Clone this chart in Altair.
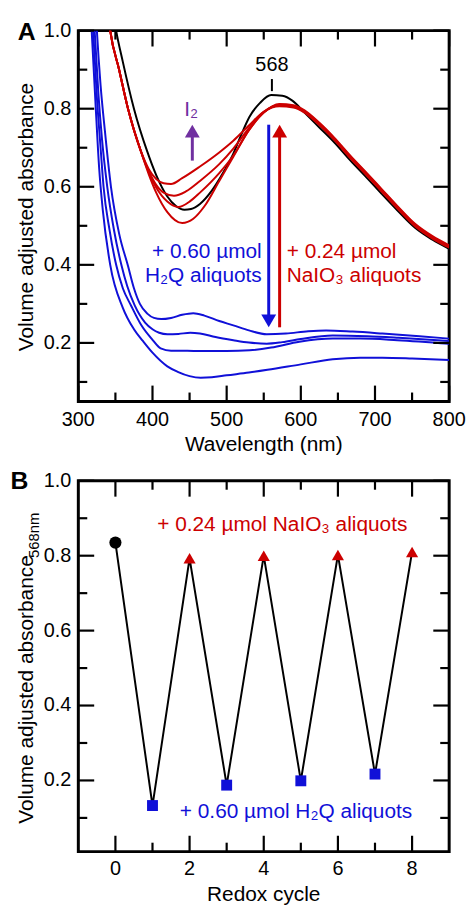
import altair as alt
import pandas as pd

FONT = "Liberation Sans, Arial, Helvetica, sans-serif"
BLUE = "#1010D8"
RED = "#CC0000"
PURPLE = "#7030A0"
W, H = 374, 374

# ---------------- Panel A: spectra ----------------
black_nm = [346, 351, 360, 375, 393, 405, 420, 432, 443, 452, 464, 480, 495, 509, 520, 531, 545, 560, 575, 589, 605, 625, 645, 667, 690, 709, 730, 754, 777, 800]
black_ab = [1.06, 1.0, 0.92, 0.80, 0.69, 0.63, 0.575, 0.55, 0.541, 0.543, 0.556, 0.59, 0.635, 0.685, 0.735, 0.78, 0.815, 0.835, 0.833, 0.82, 0.79, 0.752, 0.714, 0.667, 0.621, 0.582, 0.540, 0.495, 0.465, 0.441]

red1_nm = [338, 343, 355, 367, 384, 395, 405, 415, 425, 440, 464, 490, 509, 530, 550, 571, 590, 605, 625, 645, 667, 690, 709, 730, 754, 777, 800]
red1_ab = [1.08, 1.0, 0.90, 0.80, 0.693, 0.645, 0.62, 0.609, 0.607, 0.622, 0.652, 0.688, 0.718, 0.757, 0.792, 0.806, 0.803, 0.79, 0.758, 0.72, 0.673, 0.627, 0.588, 0.545, 0.499, 0.468, 0.444]
red2_nm = [338, 343, 355, 367, 384, 395, 405, 415, 429, 445, 464, 490, 509, 530, 550, 571, 590, 605, 625, 645, 667, 690, 709, 730, 754, 777, 800]
red2_ab = [1.08, 1.0, 0.90, 0.80, 0.693, 0.64, 0.605, 0.585, 0.577, 0.588, 0.615, 0.658, 0.698, 0.750, 0.792, 0.808, 0.805, 0.792, 0.76, 0.722, 0.675, 0.629, 0.59, 0.547, 0.501, 0.47, 0.446]
red3_nm = [338, 343, 355, 367, 384, 395, 405, 420, 435, 450, 464, 490, 509, 530, 550, 571, 590, 605, 625, 645, 667, 690, 709, 730, 754, 777, 800]
red3_ab = [1.08, 1.0, 0.90, 0.80, 0.693, 0.637, 0.598, 0.562, 0.548, 0.562, 0.585, 0.635, 0.68, 0.745, 0.79, 0.81, 0.807, 0.794, 0.762, 0.724, 0.677, 0.631, 0.592, 0.549, 0.503, 0.472, 0.448]
red4_nm = [338, 343, 355, 367, 384, 395, 405, 420, 440, 455, 470, 490, 509, 530, 550, 571, 590, 605, 625, 645, 667, 690, 709, 730, 754, 777, 800]
red4_ab = [1.08, 1.0, 0.90, 0.80, 0.693, 0.632, 0.585, 0.535, 0.507, 0.518, 0.55, 0.615, 0.677, 0.745, 0.79, 0.812, 0.809, 0.796, 0.764, 0.726, 0.679, 0.633, 0.594, 0.551, 0.505, 0.474, 0.450]

blue1_nm = [321, 325, 330, 336, 344, 355, 367, 375, 383, 393, 402, 412, 425, 440, 455, 470, 490, 509, 530, 554, 580, 610, 634, 670, 710, 760, 800]
blue1_ab = [1.15, 1.0, 0.86, 0.74, 0.60, 0.48, 0.397, 0.34, 0.30, 0.275, 0.264, 0.261, 0.264, 0.272, 0.276, 0.27, 0.256, 0.245, 0.232, 0.222, 0.224, 0.23, 0.232, 0.229, 0.224, 0.217, 0.211]
blue2_nm = [318, 322, 327, 332, 339, 348, 358, 366, 376, 390, 400, 409, 420, 435, 451, 464, 485, 509, 530, 554, 575, 600, 643, 690, 732, 800]
blue2_ab = [1.15, 1.0, 0.84, 0.72, 0.60, 0.49, 0.40, 0.345, 0.296, 0.252, 0.235, 0.226, 0.222, 0.223, 0.226, 0.224, 0.215, 0.207, 0.201, 0.198, 0.202, 0.21, 0.219, 0.217, 0.213, 0.205]
blue3_nm = [316, 320, 325, 330, 334, 342, 351, 360, 371, 385, 400, 411, 425, 447, 464, 500, 531, 560, 598, 643, 680, 730, 800]
blue3_ab = [1.15, 1.0, 0.83, 0.70, 0.60, 0.49, 0.40, 0.34, 0.296, 0.245, 0.208, 0.186, 0.18, 0.18, 0.179, 0.179, 0.181, 0.188, 0.203, 0.211, 0.211, 0.207, 0.198]
blue4_nm = [314, 318, 323, 328, 333, 343, 360, 375, 387, 400, 420, 434, 450, 465, 480, 500, 530, 555, 600, 643, 680, 710, 750, 800]
blue4_ab = [1.15, 1.0, 0.82, 0.65, 0.54, 0.40, 0.29, 0.235, 0.205, 0.175, 0.14, 0.126, 0.115, 0.111, 0.112, 0.117, 0.124, 0.131, 0.145, 0.158, 0.162, 0.162, 0.16, 0.156]

x_major_A = [300, 400, 500, 600, 700, 800]
x_labels_A = ["300", "400", "500", "600", "700", "800"]
x_minor_A = [350, 450, 550, 650, 750]
y_major = [0.2, 0.4, 0.6, 0.8, 1.0]
y_labels = ["0.2", "0.4", "0.6", "0.8", "1.0"]
y_minor = [0.1, 0.3, 0.5, 0.7, 0.9]
x_title_A = "Wavelength (nm)"
y_title = "Volume adjusted absorbance"

# annotations panel A (data coordinates)
peak_label = "568"
peak_x = 561
peak_text_y = 0.897
peak_tick = [0.845, 0.876]
i2_label = "I₂"
i2_x, i2_y = 452, 0.782
purple_arrow = dict(x=453.7, base=0.667, tip=0.759)
blue_arrow = dict(x=556.7, base=0.759, tip=0.24)
red_arrow = dict(x=571.4, base=0.24, tip=0.759)
blue_lines = ["+ 0.60 µmol", "H₂Q aliquots"]
red_lines = ["+ 0.24 µmol", "NaIO₃ aliquots"]
text_line_y = [0.4184, 0.3567]
blue_text_x = 547.3
red_text_x = 581

# ---------------- Panel B: redox cycles ----------------
cycle = [0, 1, 2, 3, 4, 5, 6, 7, 8]
a568 = [0.835, 0.133, 0.793, 0.1875, 0.800, 0.199, 0.802, 0.217, 0.810]
kind = ["start", "H2Q", "NaIO3", "H2Q", "NaIO3", "H2Q", "NaIO3", "H2Q", "NaIO3"]
x_major_B = [0, 2, 4, 6, 8]
x_labels_B = ["0", "2", "4", "6", "8"]
x_minor_B = [1, 3, 5, 7]
x_title_B = "Redox cycle"
y_sub_B = "568nm"
b_red_text = "+ 0.24 µmol NaIO₃ aliquots"
b_blue_text = "+ 0.60 µmol H₂Q aliquots"
b_red_pos = (4.5, 0.866)
b_blue_pos = (4.87, 0.100)

# ---------------- helpers ----------------
xsA = alt.Scale(domain=[300, 800], nice=False, zero=False)
ysA = alt.Scale(domain=[0.05, 1.0], nice=False, zero=False)
xsB = alt.Scale(domain=[-1, 9], nice=False, zero=False)
ysB = alt.Scale(domain=[0.01, 1.0], nice=False, zero=False)

MAJ, MIN = 16, 9


def text_mark(df, **kw):
    return alt.Chart(df).mark_text(font=FONT, **kw)


def axes_layers(xs, ys, xmaj, xlab, xmin, ymaj, ylab, ymin, xtitle, lab_off, title_off):
    layers = []
    for vals, L in ((xmaj, MAJ), (xmin, MIN)):
        d = pd.DataFrame({"v": vals})
        base = alt.Chart(d).mark_rule(color="black", strokeWidth=2.2)
        layers.append(base.encode(x=alt.X("v:Q", scale=xs, axis=None), y=alt.value(H), y2=alt.value(H - L)))
        layers.append(base.encode(x=alt.X("v:Q", scale=xs, axis=None), y=alt.value(0), y2=alt.value(L)))
    for vals, L in ((ymaj, MAJ), (ymin, MIN)):
        d = pd.DataFrame({"v": vals})
        base = alt.Chart(d).mark_rule(color="black", strokeWidth=2.2)
        layers.append(base.encode(y=alt.Y("v:Q", scale=ys, axis=None), x=alt.value(0), x2=alt.value(L)))
        layers.append(base.encode(y=alt.Y("v:Q", scale=ys, axis=None), x=alt.value(W), x2=alt.value(W - L)))
    # tick labels
    layers.append(text_mark(pd.DataFrame({"v": xmaj, "t": xlab}), fontSize=20, color="black", align="center",
                            baseline="middle").encode(x=alt.X("v:Q", scale=xs, axis=None), y=alt.value(H + lab_off), text="t:N"))
    layers.append(text_mark(pd.DataFrame({"v": ymaj, "t": ylab}), fontSize=20, color="black", align="right",
                            baseline="middle").encode(y=alt.Y("v:Q", scale=ys, axis=None), x=alt.value(-7), text="t:N"))
    layers.append(text_mark(pd.DataFrame({"t": [xtitle]}), fontSize=21, color="black", align="center",
                            baseline="middle").encode(x=alt.value(W / 2), y=alt.value(H + title_off), text="t:N"))
    return layers


# ---------------- Panel A build ----------------
def spec_df(name, nm, ab):
    return pd.DataFrame({"nm": nm, "A": ab, "s": name})

blue_df = pd.concat([spec_df("B1", blue1_nm, blue1_ab), spec_df("B2", blue2_nm, blue2_ab),
                     spec_df("B3", blue3_nm, blue3_ab), spec_df("B4", blue4_nm, blue4_ab)])
red_df = pd.concat([spec_df("R1", red1_nm, red1_ab), spec_df("R2", red2_nm, red2_ab),
                    spec_df("R3", red3_nm, red3_ab), spec_df("R4", red4_nm, red4_ab)])
black_df = spec_df("K", black_nm, black_ab)


def xA(f):
    return alt.X(f, scale=xsA, axis=None)


def yA(f):
    return alt.Y(f, scale=ysA, axis=None)


black_line = alt.Chart(black_df).mark_line(color="black", strokeWidth=2, interpolate="monotone", clip=True).encode(
    x=xA("nm:Q"), y=yA("A:Q"))
red_line = alt.Chart(red_df).mark_line(color=RED, strokeWidth=2, interpolate="monotone", clip=True).encode(
    x=xA("nm:Q"), y=yA("A:Q"), detail="s:N")
blue_line = alt.Chart(blue_df).mark_line(color=BLUE, strokeWidth=2, interpolate="monotone", clip=True).encode(
    x=xA("nm:Q"), y=yA("A:Q"), detail="s:N")

HEAD = 6.5 / 393.75  # half-height of arrow head in data units
HEAD_FULL = 12.0 / 393.75

arrow_rules = pd.DataFrame({
    "x": [purple_arrow["x"], blue_arrow["x"], red_arrow["x"]],
    "y": [purple_arrow["base"], blue_arrow["base"], red_arrow["base"]],
    "y2": [purple_arrow["tip"] - HEAD_FULL, blue_arrow["tip"] + HEAD_FULL, red_arrow["tip"] - HEAD_FULL],
    "c": ["p", "b", "r"],
})
cscale = alt.Scale(domain=["p", "b", "r"], range=[PURPLE, BLUE, RED])
rules_A = alt.Chart(arrow_rules).mark_rule(strokeWidth=3).encode(
    x=xA("x:Q"), y=yA("y:Q"), y2="y2:Q", color=alt.Color("c:N", scale=cscale, legend=None))
heads_df = pd.DataFrame({
    "x": [purple_arrow["x"], blue_arrow["x"], red_arrow["x"]],
    "y": [purple_arrow["tip"] - HEAD, blue_arrow["tip"] + HEAD, red_arrow["tip"] - HEAD],
    "c": ["p", "b", "r"],
    "sh": ["triangle-up", "triangle-down", "triangle-up"],
})
heads_A = alt.Chart(heads_df).mark_point(filled=True, opacity=1, size=225, strokeWidth=0).encode(
    x=xA("x:Q"), y=yA("y:Q"), color=alt.Color("c:N", scale=cscale, legend=None),
    shape=alt.Shape("sh:N", scale=None, legend=None))

peak_tick_df = pd.DataFrame({"x": [peak_x], "y": [peak_tick[0]], "y2": [peak_tick[1]]})
peak_tick_l = alt.Chart(peak_tick_df).mark_rule(color="black", strokeWidth=2).encode(x=xA("x:Q"), y=yA("y:Q"), y2="y2:Q")
peak_txt = text_mark(pd.DataFrame({"t": [peak_label], "x": [peak_x], "y": [peak_text_y]}), fontSize=20, color="black",
                     align="center", baseline="alphabetic").encode(x=xA("x:Q"), y=yA("y:Q"), text="t:N")
i2_txt = text_mark(pd.DataFrame({"t": [i2_label], "x": [i2_x], "y": [i2_y]}), fontSize=21, color=PURPLE,
                   align="center", baseline="alphabetic").encode(x=xA("x:Q"), y=yA("y:Q"), text="t:N")
blue_txt = text_mark(pd.DataFrame({"t": blue_lines, "x": [blue_text_x] * 2, "y": text_line_y}), fontSize=21, color=BLUE,
                     align="right", baseline="alphabetic").encode(x=xA("x:Q"), y=yA("y:Q"), text="t:N")
red_txt = text_mark(pd.DataFrame({"t": red_lines, "x": [red_text_x] * 2, "y": text_line_y}), fontSize=21, color=RED,
                    align="left", baseline="alphabetic").encode(x=xA("x:Q"), y=yA("y:Q"), text="t:N")

label_A = text_mark(pd.DataFrame({"t": ["A"]}), fontSize=25, fontWeight="bold", color="black",
                    align="center", baseline="middle").encode(x=alt.value(-52), y=alt.value(1), text="t:N")
ytitle_A = text_mark(pd.DataFrame({"t": [y_title]}), fontSize=21, color="black", angle=270,
                     align="center", baseline="middle").encode(x=alt.value(-52), y=alt.value(188), text="t:N")

panelA = alt.layer(
    black_line, red_line, blue_line, rules_A, heads_A, peak_tick_l, peak_txt, i2_txt, blue_txt, red_txt,
    *axes_layers(xsA, ysA, x_major_A, x_labels_A, x_minor_A, y_major, y_labels, y_minor, x_title_A, 19, 44),
    label_A, ytitle_A,
).properties(width=W, height=H)

# ---------------- Panel B build ----------------
bdf = pd.DataFrame({"cycle": cycle, "a": a568, "k": kind})


def xB(f):
    return alt.X(f, scale=xsB, axis=None)


def yB(f):
    return alt.Y(f, scale=ysB, axis=None)


line_B = alt.Chart(bdf).mark_line(color="black", strokeWidth=2).encode(x=xB("cycle:Q"), y=yB("a:Q"))
pts_start = alt.Chart(bdf).transform_filter(alt.datum.k == "start").mark_point(
    filled=True, opacity=1, shape="circle", size=150, color="black", strokeWidth=0).encode(x=xB("cycle:Q"), y=yB("a:Q"))
pts_ox = alt.Chart(bdf).transform_filter(alt.datum.k == "NaIO3").mark_point(
    filled=True, opacity=1, shape="triangle-up", size=150, color=RED, strokeWidth=0).encode(x=xB("cycle:Q"), y=yB("a:Q"))
pts_red = alt.Chart(bdf).transform_filter(alt.datum.k == "H2Q").mark_point(
    filled=True, opacity=1, shape="square", size=121, color=BLUE, strokeWidth=0).encode(x=xB("cycle:Q"), y=yB("a:Q"))

txt_B_red = text_mark(pd.DataFrame({"t": [b_red_text], "x": [b_red_pos[0]], "y": [b_red_pos[1]]}), fontSize=21, color=RED,
                      align="center", baseline="alphabetic").encode(x=xB("x:Q"), y=yB("y:Q"), text="t:N")
txt_B_blue = text_mark(pd.DataFrame({"t": [b_blue_text], "x": [b_blue_pos[0]], "y": [b_blue_pos[1]]}), fontSize=21, color=BLUE,
                       align="center", baseline="alphabetic").encode(x=xB("x:Q"), y=yB("y:Q"), text="t:N")

label_B = text_mark(pd.DataFrame({"t": ["B"]}), fontSize=25, fontWeight="bold", color="black",
                    align="center", baseline="middle").encode(x=alt.value(-59.5), y=alt.value(0), text="t:N")
ytitle_B = text_mark(pd.DataFrame({"t": [y_title]}), fontSize=21, color="black", angle=270,
                     align="center", baseline="middle").encode(x=alt.value(-52), y=alt.value(210.5), text="t:N")
ytitle_B_sub = text_mark(pd.DataFrame({"t": [y_sub_B]}), fontSize=15, color="black", angle=270,
                         align="left", baseline="middle").encode(x=alt.value(-45), y=alt.value(78), text="t:N")

panelB = alt.layer(
    line_B, pts_start, pts_ox, pts_red, txt_B_red, txt_B_blue,
    *axes_layers(xsB, ysB, x_major_B, x_labels_B, x_minor_B, y_major, y_labels, y_minor, x_title_B, 18, 44),
    label_B, ytitle_B, ytitle_B_sub,
).properties(width=W, height=H)

chart = alt.vconcat(panelA, panelB, spacing=80, bounds="flush").properties(
    padding={"left": 8, "top": 14, "right": 0, "bottom": 0},
    background="white",
).configure_view(stroke="black", strokeWidth=3)

chart.save("out.html", embed_options={"renderer": "svg", "actions": False})
